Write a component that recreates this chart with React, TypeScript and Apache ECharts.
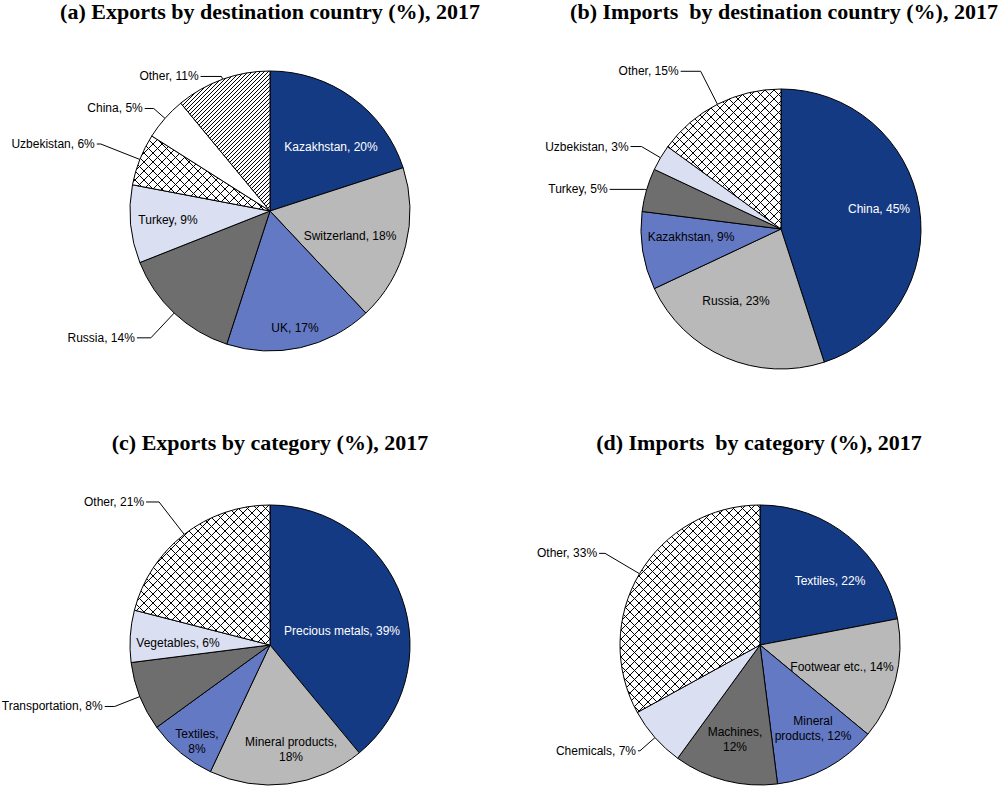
import React, { useEffect, useRef } from 'react';
import * as echarts from 'echarts';

// ---------- data ----------
const exportsCountryNames = ['Kazakhstan', 'Switzerland', 'UK', 'Russia', 'Turkey', 'Uzbekistan', 'China', 'Other'];
const exportsCountryValues = [20, 18, 17, 14, 9, 6, 5, 11];

const importsCountryNames = ['China', 'Russia', 'Kazakhstan', 'Turkey', 'Uzbekistan', 'Other'];
const importsCountryValues = [45, 23, 9, 5, 3, 15];

const exportsCategoryNames = ['Precious metals', 'Mineral products', 'Textiles', 'Transportation', 'Vegetables', 'Other'];
const exportsCategoryValues = [39, 18, 8, 8, 6, 21];

const importsCategoryNames = ['Textiles', 'Footwear etc.', 'Mineral products', 'Machines', 'Chemicals', 'Other'];
const importsCategoryValues = [22, 14, 12, 12, 7, 33];

const titleTexts = [
  '(a) Exports by destination country (%), 2017',
  '(b) Imports  by destination country (%), 2017',
  '(c) Exports by category (%), 2017',
  '(d) Imports  by category (%), 2017',
];

// ---------- styles ----------
const NAVY = '#153a84';
const LIGHT_GREY = '#b9b9b9';
const MID_BLUE = '#6479c4';
const DARK_GREY = '#6e6e6e';
const LAVENDER = '#dadff1';
const WHITE = '#ffffff';
const R = 140;

// label placement: "at" = label centre offset from the pie centre (inside labels),
// "len" = [radial length, horizontal length] of the leader line (outside labels)
type LabelCfg = { at?: [number, number]; len?: [number, number] };
type Fmt = (n: string, v: number) => string;

const defFmt: Fmt = (n, v) => `${n}, ${v}%`;
const commaBreak: Fmt = (n, v) => `${n},\n${v}%`;

const panels: {
  names: string[];
  values: number[];
  fills: string[];
  center: [number, number];
  titlePos: [number, number];
  labels: LabelCfg[];
  wrap?: Record<string, Fmt>;
}[] = [
  {
    names: exportsCountryNames,
    values: exportsCountryValues,
    fills: [NAVY, LIGHT_GREY, MID_BLUE, DARK_GREY, LAVENDER, 'cross', WHITE, 'stripe'],
    center: [270, 211],
    titlePos: [270, 0],
    labels: [
      { at: [61, -64] },
      { at: [80, 25] },
      { at: [25, 117] },
      { len: [34, 14] },
      { at: [-102, 9] },
      { len: [42, 4] },
      { len: [15, 9] },
      { len: [3, 21] },
    ],
  },
  {
    names: importsCountryNames,
    values: importsCountryValues,
    fills: [NAVY, LIGHT_GREY, MID_BLUE, DARK_GREY, LAVENDER, 'cross'],
    center: [781, 229],
    titlePos: [784, 0],
    labels: [
      { at: [98, -20] },
      { at: [-45, 72] },
      { at: [-90, 8] },
      { len: [2, 35] },
      { len: [22, 11] },
      { len: [37, 20] },
    ],
  },
  {
    names: exportsCategoryNames,
    values: exportsCategoryValues,
    fills: [NAVY, LIGHT_GREY, MID_BLUE, DARK_GREY, LAVENDER, 'cross'],
    center: [270, 645],
    titlePos: [270, 431],
    labels: [
      { at: [72, -14] },
      { at: [21, 104] },
      { at: [-73, 96] },
      { len: [27, 10] },
      { at: [-92, -2] },
      { len: [41, 13] },
    ],
    wrap: { 'Mineral products': commaBreak, Textiles: commaBreak },
  },
  {
    names: importsCategoryNames,
    values: importsCategoryValues,
    fills: [NAVY, LIGHT_GREY, MID_BLUE, DARK_GREY, LAVENDER, 'cross'],
    center: [760, 645],
    titlePos: [759, 431],
    labels: [
      { at: [70, -64] },
      { at: [82, 22] },
      { at: [53, 83] },
      { at: [-25, 94] },
      { len: [20, 2] },
      { len: [40, 6] },
    ],
    wrap: {
      'Mineral products': (_n, v) => `Mineral\nproducts, ${v}%`,
      Machines: commaBreak,
    },
  },
];

function makeCross() {
  const s = 9;
  const c = document.createElement('canvas');
  c.width = s;
  c.height = s;
  const g = c.getContext('2d')!;
  g.fillStyle = '#fff';
  g.fillRect(0, 0, s, s);
  g.strokeStyle = '#000';
  g.lineWidth = 1;
  g.beginPath();
  g.moveTo(0, 0);
  g.lineTo(s, s);
  g.moveTo(s, 0);
  g.lineTo(0, s);
  g.stroke();
  return { image: c, repeat: 'repeat', imageWidth: s, imageHeight: s };
}

function makeStripe() {
  const s = 4;
  const c = document.createElement('canvas');
  c.width = s;
  c.height = s;
  const g = c.getContext('2d')!;
  g.fillStyle = '#fff';
  g.fillRect(0, 0, s, s);
  g.strokeStyle = '#000';
  g.lineWidth = 1;
  g.beginPath();
  g.moveTo(-1, 1);
  g.lineTo(1, -1);
  g.moveTo(0, s);
  g.lineTo(s, 0);
  g.moveTo(s - 1, s + 1);
  g.lineTo(s + 1, s - 1);
  g.stroke();
  return { image: c, repeat: 'repeat', imageWidth: s, imageHeight: s };
}

export default function App() {
  const ref = useRef<HTMLDivElement>(null);

  useEffect(() => {
    if (!ref.current) return;
    const chart = echarts.init(ref.current, null, { renderer: 'svg' });
    const labelFamily = "'Liberation Sans', Arial, sans-serif";
    const labelSize = 12;
    const cross = makeCross();
    const stripe = makeStripe();
    const fillOf = (f: string) => (f === 'cross' ? cross : f === 'stripe' ? stripe : f);

    const series = panels.map((p) => ({
      type: 'pie',
      radius: R,
      center: p.center,
      startAngle: 90,
      clockwise: true,
      avoidLabelOverlap: false,
      silent: true,
      animation: false,
      emphasis: { disabled: true },
      itemStyle: { borderColor: '#000', borderWidth: 1 },
      label: {
        fontFamily: labelFamily,
        fontSize: labelSize,
        lineHeight: 15,
        color: '#000',
        bleedMargin: 0,
        distanceToLabelLine: 2,
        formatter: (params: any) => {
          const f = (p.wrap && p.wrap[params.name]) || defFmt;
          return f(params.name, params.value);
        },
      },
      labelLine: { lineStyle: { color: '#000', width: 1 } },
      labelLayout: (params: any) => {
        const cfg = p.labels[params.dataIndex];
        if (!cfg || !cfg.at) return {};
        const lr = params.labelRect;
        const cx = lr.x + lr.width / 2;
        const cy = lr.y + lr.height / 2;
        return {
          dx: p.center[0] + cfg.at[0] - cx,
          dy: p.center[1] + cfg.at[1] - cy,
        };
      },
      data: p.names.map((n, i) => {
        const cfg = p.labels[i];
        const inside = !!cfg.at;
        return {
          name: n,
          value: p.values[i],
          itemStyle: { color: fillOf(p.fills[i]) },
          label: inside
            ? { position: 'inside', color: p.fills[i] === NAVY ? '#fff' : '#000' }
            : { position: 'outside', color: '#000' },
          labelLine: inside
            ? { show: false }
            : { show: true, length: cfg.len![0], length2: cfg.len![1] },
        };
      }),
    }));

    chart.setOption({
      animation: false,
      title: panels.map((p, i) => ({
        text: titleTexts[i],
        left: p.titlePos[0],
        top: p.titlePos[1],
        textAlign: 'center',
        padding: 0,
        textStyle: {
          fontFamily: "'Liberation Serif', 'Times New Roman', serif",
          fontWeight: 'bold',
          fontSize: 22,
          color: '#000',
        },
      })),
      series,
    });

    return () => chart.dispose();
  }, []);

  return (
    <div
      ref={ref}
      style={{ position: 'absolute', left: 0, top: 0, width: 1000, height: 789, background: '#fff' }}
    />
  );
}
